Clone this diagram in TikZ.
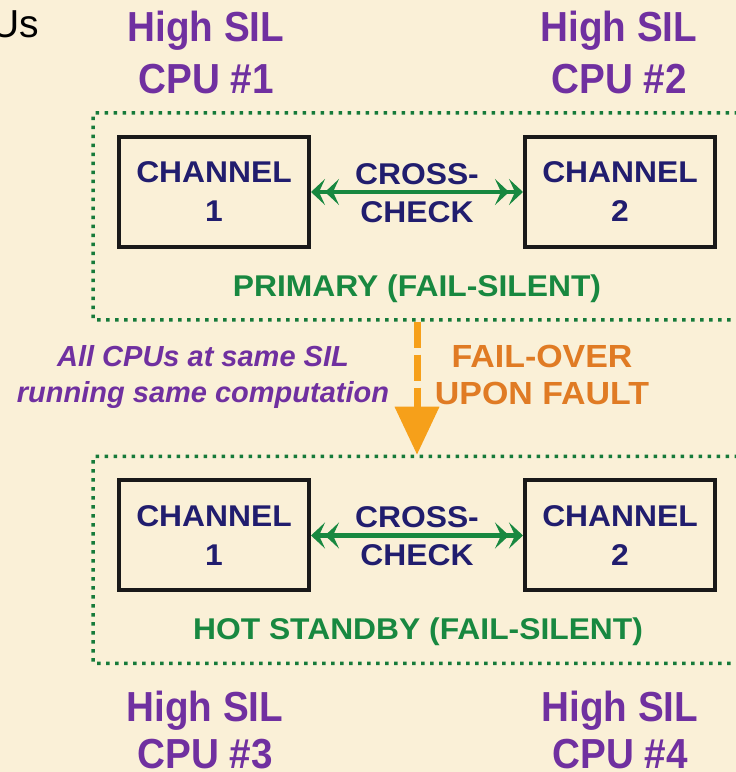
\documentclass[tikz,border=0pt]{standalone}
\usepackage{fontspec}
\setmainfont{Liberation Sans}
\newfontfamily\cpufont[FakeStretch=0.92]{Liberation Sans}
\newfontfamily\boxfont[FakeStretch=1.06]{Liberation Sans}
\usepackage{tikz}
\usetikzlibrary{arrows.meta, positioning, calc, fit}

\definecolor{parchment}{RGB}{250,240,215}
\definecolor{silpurple}{RGB}{112,48,160}
\definecolor{chnavy}{RGB}{33,29,110}
\definecolor{grpgreen}{RGB}{24,136,64}
\definecolor{failorange}{RGB}{246,160,26}
\definecolor{failtext}{RGB}{224,123,36}

\tikzset{barb/.tip={Stealth[length=14pt,width=26pt,inset=6pt]}}

\begin{document}
\begin{tikzpicture}[
        x=1pt, y=1pt,
        cpu/.style={align=center, inner sep=0pt, text=silpurple, font=\cpufont\bfseries\fontsize{42}{52}\selectfont},
        channel/.style={draw=black!90, line width=4pt, minimum width=190pt, minimum height=110pt, align=center, text=chnavy, font=\boxfont\bfseries\fontsize{30}{39}\selectfont},
        xlabel/.style={align=center, inner sep=0pt, text=chnavy, font=\boxfont\bfseries\fontsize{30}{38}\selectfont},
        grplabel/.style={inner sep=0pt, text=grpgreen, font=\boxfont\bfseries\fontsize{30}{38}\selectfont},
        xcheck/.style={{barb[]barb[]}-{barb[]barb[]}, draw=grpgreen, line width=4.5pt},
        grpbox/.style={draw=grpgreen!90!black, line width=3.5pt, dash pattern=on 3.5pt off 5.5pt, inner sep=0pt, rounded corners=1pt},
        failover/.style={draw=failorange, line width=7pt, dash pattern=on 26pt off 7pt, -{Triangle[length=48pt,width=43pt]}}
    ]
        % page and background
        \useasboundingbox (0,0) rectangle (736,772);
        \clip (0,0) rectangle (736,772);
        \fill[parchment] (0,0) rectangle (736,772);

        \node[anchor=base east, inner sep=0pt, font=\fontsize{39}{46}\selectfont] (title) at (39,734) {Us};

        % CPU captions
        \node[cpu] (cpu1) at (206,719.5) {High SIL\\CPU \#1};
        \node[cpu] (cpu2) at (619,719.5) {High SIL\\CPU \#2};
        \node[cpu, font=\cpufont\bfseries\fontsize{42}{47}\selectfont] (cpu3) at (205,42) {High SIL\\CPU \#3};
        \node[cpu, font=\cpufont\bfseries\fontsize{42}{47}\selectfont] (cpu4) at (620,42) {High SIL\\CPU \#4};

        % Primary pair
        \node[channel] (ch1) at (214,580) {CHANNEL\\1};
        \node[channel] (ch2) at (620,580) {CHANNEL\\2};
        \draw[xcheck] (ch1) -- (ch2);
        \node[xlabel] (xc1) at (417,578.5) {CROSS-\\CHECK};
        \node[grplabel] (primary) at (417,483) {PRIMARY (FAIL-SILENT)};
        \node[grpbox, fit={($(ch1.north west)+(-24,22)$) ($(ch2.south east)+(40,-71)$)}] (primarybox) {};

        % Hot standby pair
        \node[channel] (ch3) at (214,236.5) {CHANNEL\\1};
        \node[channel] (ch4) at (620,236.5) {CHANNEL\\2};
        \draw[xcheck] (ch3) -- (ch4);
        \node[xlabel] (xc2) at (417,235.5) {CROSS-\\CHECK};
        \node[grplabel] (standby) at (418,140) {HOT STANDBY (FAIL-SILENT)};
        \node[grpbox, fit={($(ch3.north west)+(-24,22)$) ($(ch4.south east)+(40,-71)$)}] (standbybox) {};

        % Fail-over between the pairs
        \draw[failover] (primarybox.south -| xc1) -- (standbybox.north -| xc1);
        \node[align=center, inner sep=0pt, text=silpurple, font=\bfseries\itshape\fontsize{29}{36}\selectfont] (note) at (203,395) {All CPUs at same SIL\\running same computation};
        \node[align=center, inner sep=0pt, text=failtext, font=\boxfont\bfseries\fontsize{32}{37}\selectfont] (faillbl) at (542,397) {FAIL-OVER\\UPON FAULT};

    \end{tikzpicture}
\end{document}
